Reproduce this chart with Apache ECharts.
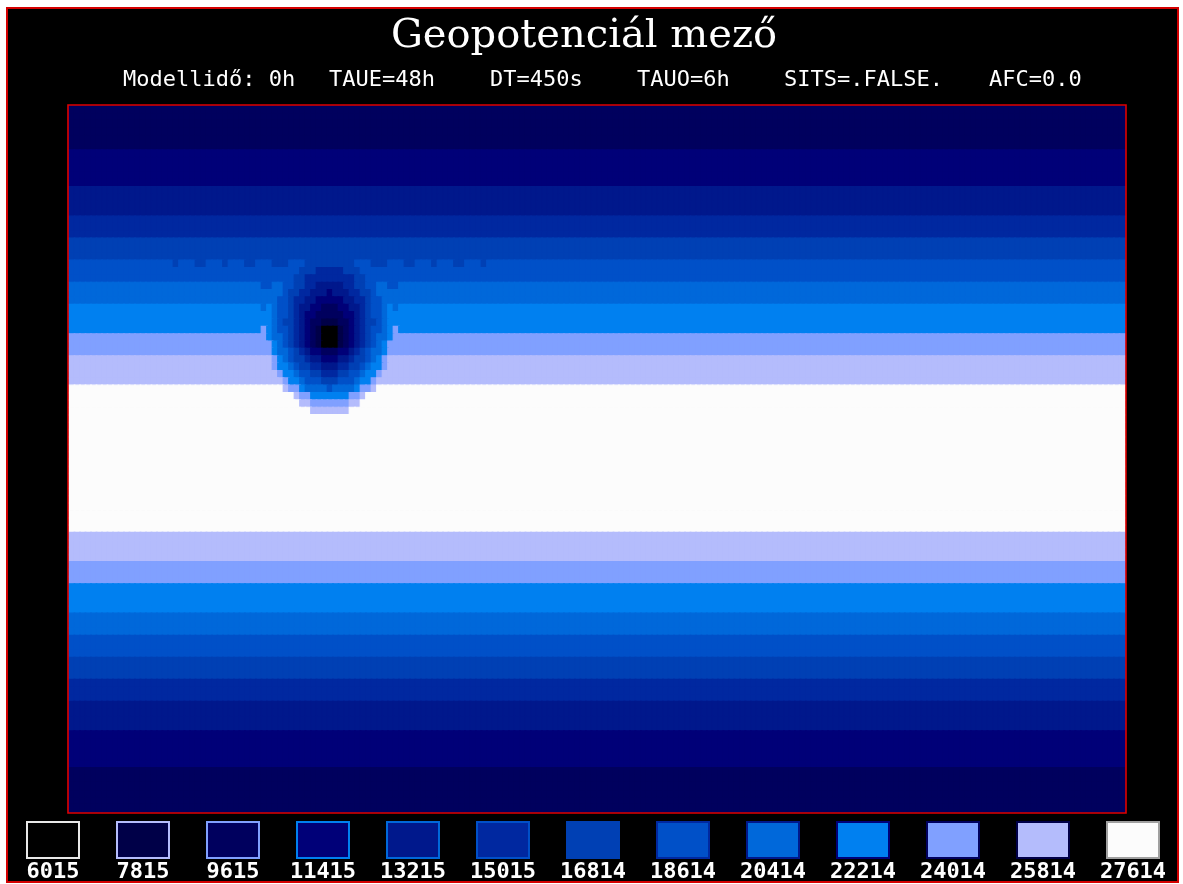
<!DOCTYPE html>
<html>
<head>
<meta charset="utf-8">
<script src="https://cdn.jsdelivr.net/npm/echarts@6/dist/echarts.min.js"></script>
<style>
html,body{margin:0;padding:0;background:#ffffff;}
#chart{width:1183px;height:884px;}
</style>
</head>
<body>
<div id="chart"></div>
<script>
// ---------------- data ----------------
const titleText = 'Geopotenciál mező';
const subtitleParts = ['Modellidő: 0h', 'TAUE=48h', 'DT=450s', 'TAUO=6h', 'SITS=.FALSE.', 'AFC=0.0'];
const levelLabels = ['6015','7815','9615','11415','13215','15015','16814','18614','20414','22214','24014','25814','27614'];
const levelValues = [6015, 7815, 9615, 11415, 13215, 15015, 16814, 18614, 20414, 22214, 24014, 25814, 27614];

// grid size (columns x rows)
const nCols = 192;
const nRows = 96;

// zonal background: level index of each band (top to bottom) and its number of rows
const bandLevels = [2, 3, 4, 5, 6, 7, 8, 9, 10, 11, 12, 11, 10, 9, 8, 7, 6, 5, 4, 3, 2];
const bandRows   = [6, 5, 4, 3, 3, 3, 3, 4, 3, 4, 20, 4, 3, 4, 3, 3, 3, 3, 4, 5, 6];

// local depression (level index per cell, hex digit; '.' = background band)
const anomalyFirstRow = 21;
const anomalyFirstCol = 19;
const anomalyWidth = 57;
const anomalyRows = [
  '6...66...6...66...666...666666666...666...66...6...66...6',
  '.........66655555666.........',
  '........6655555555566........',
  '..77..77665544444556677..77..',
  '......76655444344455667......',
  '.....7765544333334455677.....',
  '..8.877654433222334456778.8..',
  '....877654332222233456778....',
  '....876654322111223456678....',
  '..a.877654321000123456778.a..',
  '...98876543210001234567889...',
  '....987654321000123456789....',
  '....988765433222334567889....',
  '....a9876654433344566789a....',
  '....a9987665544455667899a....',
  '.....a99877665556677899a.....',
  '......a998777666777899a......',
  '......baa98888788889aab......',
  '........baa9999999aab........',
  '.........bbaaaaaaabb.........',
  '...........bbbbbbb...........'
];

// ---------------- styles ----------------
const levelColors = ['#000000','#000048','#00005e','#000078','#00188c','#0028a0','#0040b4',
                     '#0050c8','#0068da','#0080f0','#80a0ff','#b4bcfc','#fcfcfc'];
const legendBorderColors = ['#e8e8e8','#b4bcfc','#80a0ff','#0080f0','#0068da','#0050c8','#0040b4',
                            '#0028a0','#00188c','#000078','#00005e','#000048','#a0a0a0'];

// ---------------- build heatmap table ----------------
const rowLevel = [];
bandLevels.forEach((lv, i) => { for (let k = 0; k < bandRows[i]; k++) rowLevel.push(lv); });

const cells = [];
for (let r = 0; r < nRows; r++) {
  for (let c = 0; c < nCols; c++) {
    let lv = rowLevel[r];
    const ai = r - anomalyFirstRow;
    if (ai >= 0 && ai < anomalyRows.length) {
      const s = anomalyRows[ai];
      const off = anomalyFirstCol + (anomalyWidth - s.length) / 2;
      const j = c - off;
      if (j >= 0 && j < s.length && s[j] !== '.') lv = parseInt(s[j], 16);
    }
    // same-colour hairline border hides anti-aliasing seams between cells
    cells.push({ value: [c, r, levelValues[lv]],
                 itemStyle: { borderColor: levelColors[lv], borderWidth: 1.2 } });
  }
}
const xCats = []; for (let c = 0; c < nCols; c++) xCats.push(String(c));
const yCats = []; for (let r = 0; r < nRows; r++) yCats.push(String(r));

const pieces = levelValues.map((v, i) => {
  const p = { gte: v, color: levelColors[i] };
  if (i < levelValues.length - 1) p.lt = levelValues[i + 1];
  return p;
});

// ---------------- graphics (frame, titles, legend) ----------------
const PLOT = { x: 69, y: 106, w: 1056, h: 706 };
const graphics = [];
graphics.push({
  type: 'rect', z: -10, silent: true,
  shape: { x: 7, y: 8, width: 1171, height: 874 },
  style: { fill: '#000000', stroke: '#d40000', lineWidth: 2 }
});
graphics.push({
  type: 'rect', z: 100, silent: true,
  shape: { x: PLOT.x - 1, y: PLOT.y - 1, width: PLOT.w + 2, height: PLOT.h + 2 },
  style: { fill: 'none', stroke: '#e00000', lineWidth: 1.6 }
});
graphics.push({
  type: 'text', z: 100, silent: true,
  style: { text: titleText, x: 584, y: 37, fill: '#ffffff',
           font: '40px "DejaVu Serif"', align: 'center', verticalAlign: 'middle' }
});
const subX = [123, 329, 490, 637, 784, 989];
subtitleParts.forEach((t, i) => {
  graphics.push({
    type: 'text', z: 100, silent: true,
    style: { text: t, x: subX[i], y: 80, fill: '#ffffff',
             font: '22px "DejaVu Sans Mono"', align: 'left', verticalAlign: 'middle' }
  });
});
levelLabels.forEach((lab, i) => {
  const bx = 27 + 90 * i;
  graphics.push({
    type: 'rect', z: 100, silent: true,
    shape: { x: bx, y: 822, width: 52, height: 36 },
    style: { fill: levelColors[i], stroke: legendBorderColors[i], lineWidth: 2 }
  });
  graphics.push({
    type: 'text', z: 100, silent: true,
    style: { text: lab, x: bx + 26, y: 872, fill: '#ffffff',
             font: 'bold 22px "DejaVu Sans Mono"', align: 'center', verticalAlign: 'middle' }
  });
});

// ---------------- chart ----------------
const chart = echarts.init(document.getElementById('chart'), null, { renderer: 'canvas' });
chart.setOption({
  backgroundColor: '#ffffff',
  animation: false,
  grid: { left: PLOT.x, top: PLOT.y, width: PLOT.w, height: PLOT.h, containLabel: false },
  xAxis: { type: 'category', data: xCats, show: false, boundaryGap: true },
  yAxis: { type: 'category', data: yCats, show: false, inverse: true, boundaryGap: true },
  visualMap: { type: 'piecewise', show: false, dimension: 2, pieces: pieces },
  tooltip: { show: false },
  series: [{
    type: 'heatmap',
    data: cells,
    progressive: 0,
    emphasis: { disabled: true }
  }],
  graphic: { elements: graphics }
});
</script>
</body>
</html>
